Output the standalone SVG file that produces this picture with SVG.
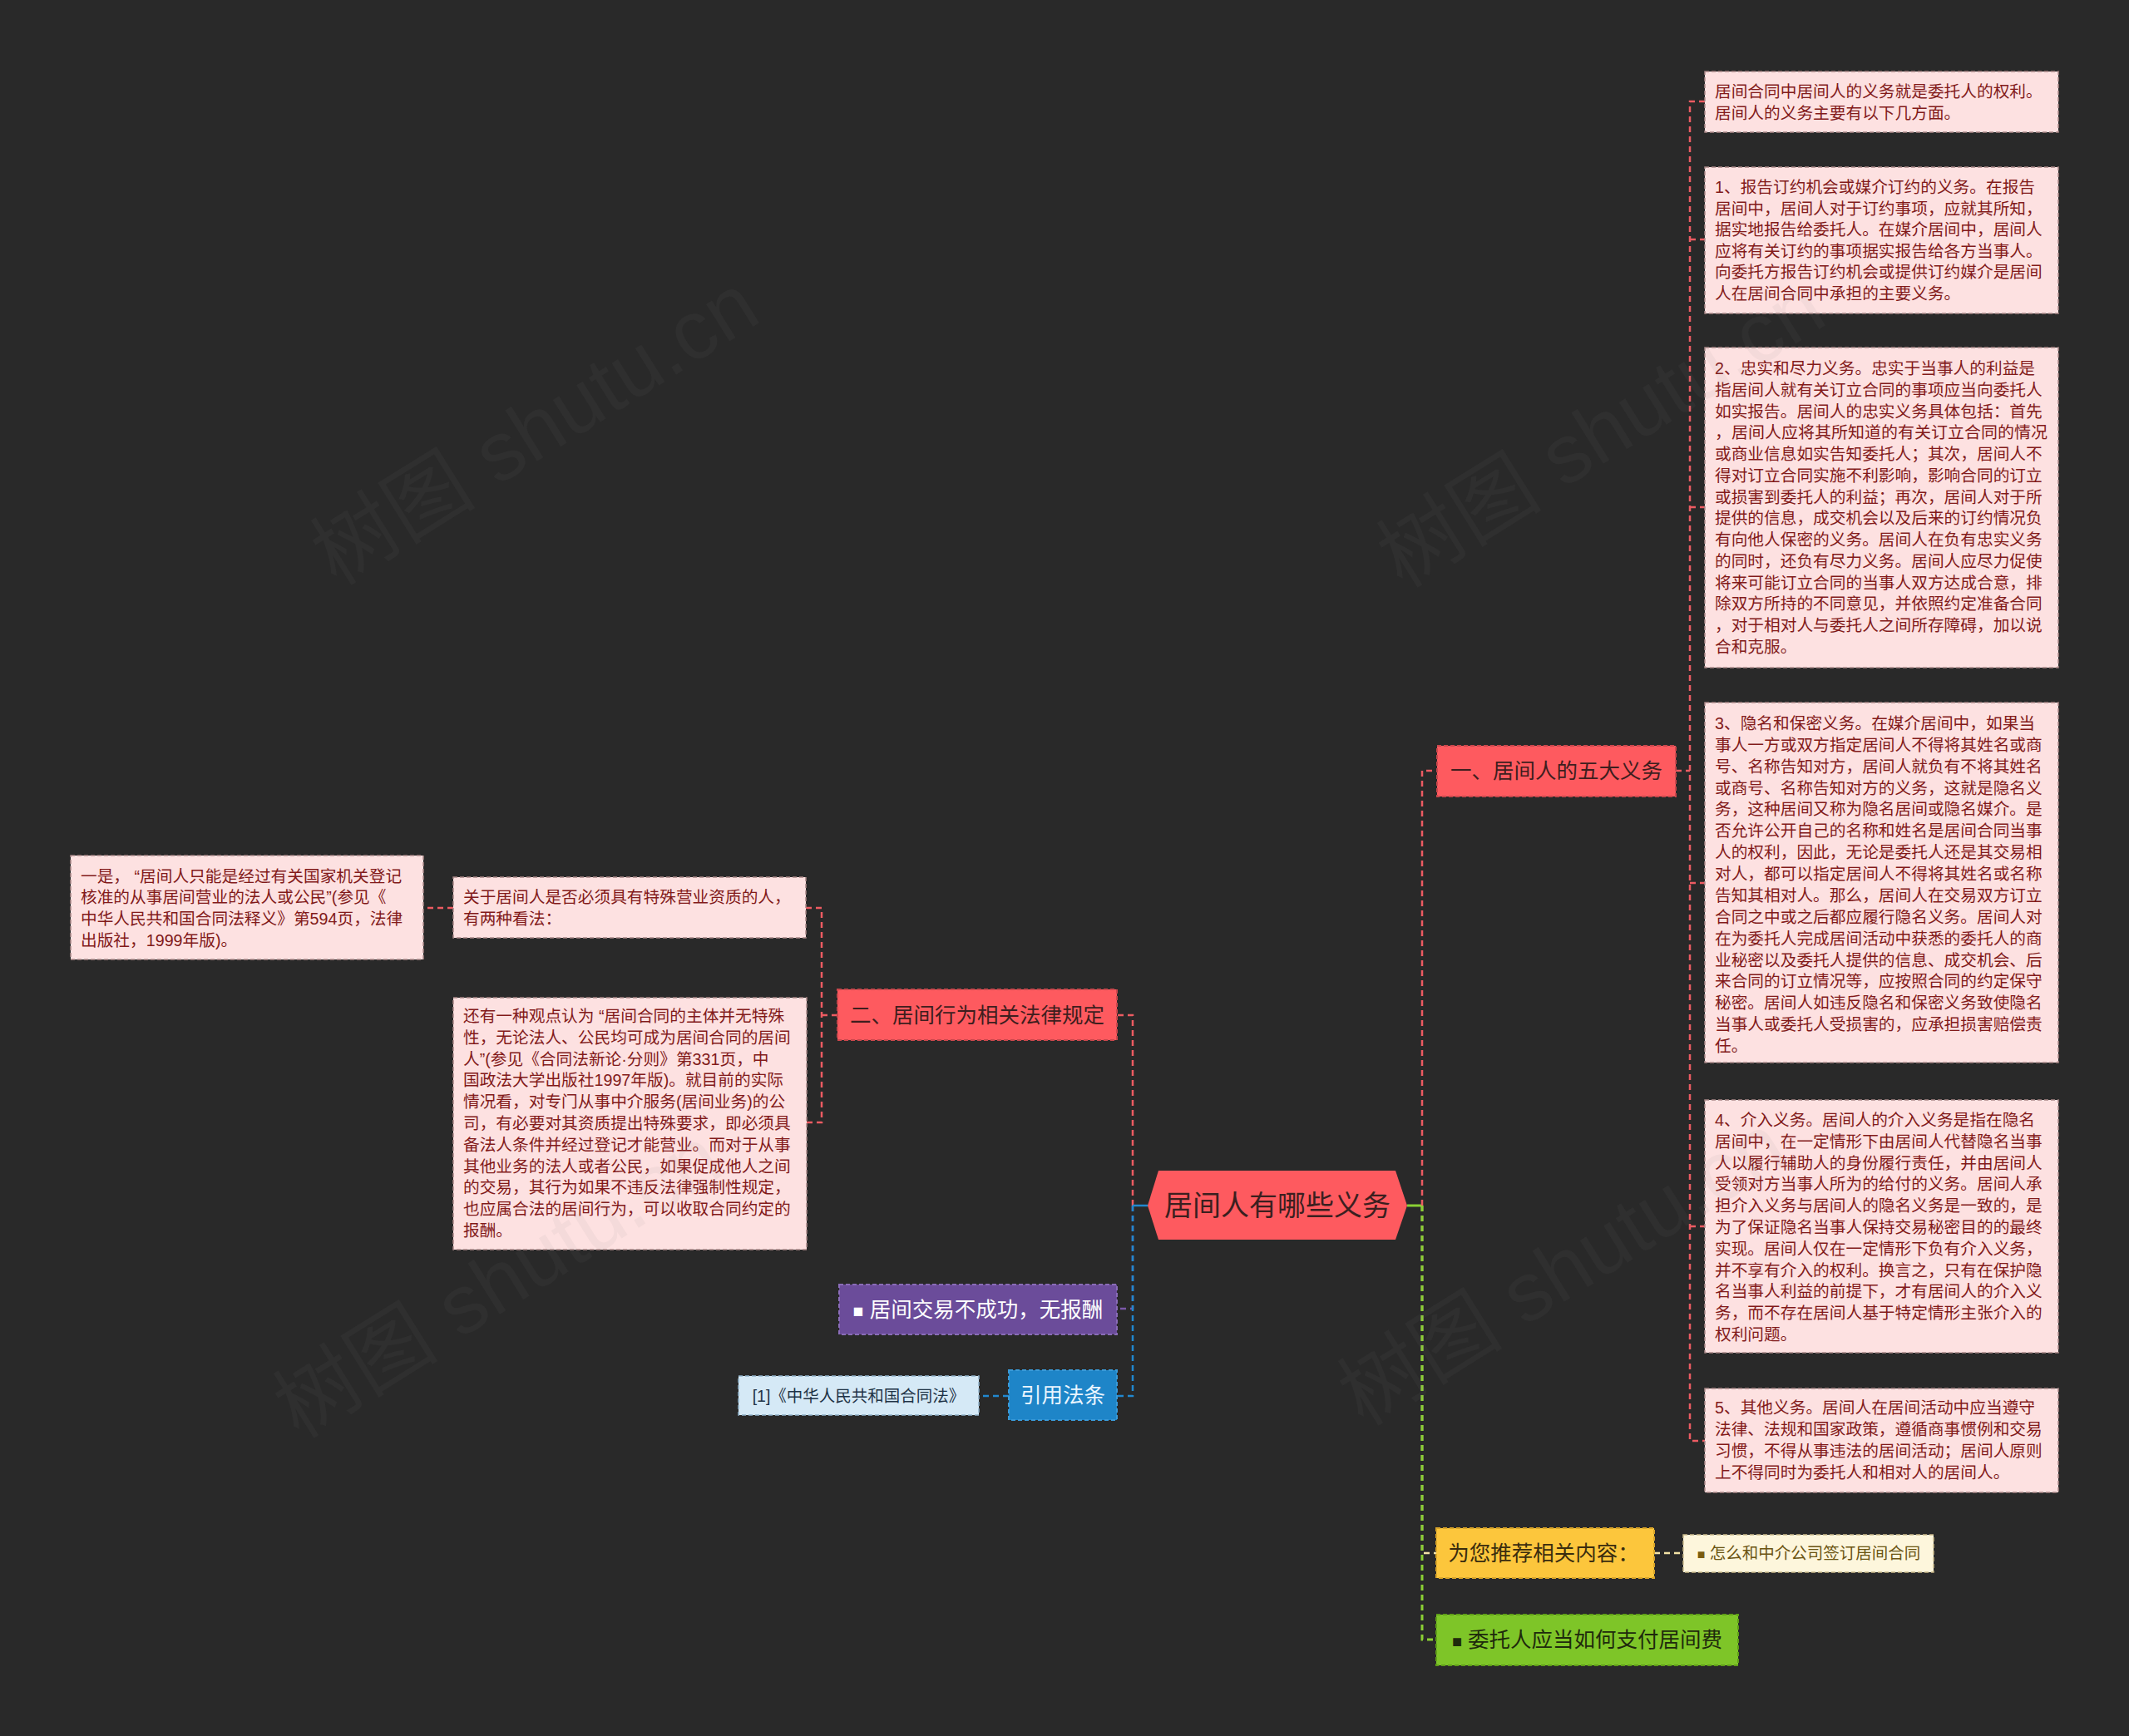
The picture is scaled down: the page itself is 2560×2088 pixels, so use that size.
<svg xmlns="http://www.w3.org/2000/svg" width="2560" height="2088" viewBox="0 0 2560 2088">
<style>
text { font-family: 'Liberation Sans','Noto Sans CJK SC',sans-serif; }
.pk rect { fill:#fde1e1; stroke:#a98888; stroke-width:1.5; stroke-dasharray:5 3; }
.pk text { fill:#821a1a; font-size:19.7px; }
.red rect { fill:#fe5a5f; stroke:#c9474c; stroke-width:2; stroke-dasharray:5 3; }
.red text { fill:#3e1e1e; font-size:25.5px; text-anchor:middle; }
.pur rect { fill:#6b4c9a; stroke:#8a6cb8; stroke-width:2; stroke-dasharray:5 3; }
.pur text { fill:#ffffff; font-size:25.5px; text-anchor:middle; }
.blu rect { fill:#1e85c8; stroke:#3a9ad8; stroke-width:2; stroke-dasharray:5 3; }
.blu text { fill:#eaf5ff; font-size:25.5px; text-anchor:middle; }
.lbl rect { fill:#d5e9f6; stroke:#8fb0c8; stroke-width:1.5; stroke-dasharray:5 3; }
.lbl text { fill:#1f3346; font-size:19.5px; text-anchor:middle; }
.yel rect { fill:#fcc63c; stroke:#d9a52a; stroke-width:2; stroke-dasharray:5 3; }
.yel text { fill:#3a2c0e; font-size:25.5px; text-anchor:middle; }
.crm rect { fill:#fdf6dc; stroke:#c9b98a; stroke-width:1.5; stroke-dasharray:5 3; }
.crm text { fill:#6b5412; font-size:19.5px; text-anchor:middle; }
.grn rect { fill:#7ec528; stroke:#5f9e18; stroke-width:2; stroke-dasharray:5 3; }
.grn text { fill:#1e2a0c; font-size:25.5px; text-anchor:middle; }
.ln { fill:none; stroke-width:2.5; stroke-dasharray:7 5; }
.r { stroke:#ec5b62; }
.b { stroke:#2188cf; }
.p { stroke:#7a58a8; }
.g { stroke:#8bd034; stroke-width:3; }
.y { stroke:#f3e3a6; }
.solid { stroke-dasharray:none; }
.wm { font-size:100px; fill:#808080; fill-opacity:0.07; text-anchor:middle; }
</style>
<rect x="0" y="0" width="2560" height="2088" fill="#292929"/>

<g id="connectors">
  <path class="ln p" d="M1362,1450 V1574 H1343"/>
  <path class="ln r" d="M1362,1450 V1221 H1343"/>
  <path class="ln b" d="M1362,1450 V1679 H1343"/>
  <path class="ln b solid" d="M1380,1450 H1362"/>
  <path class="ln r" d="M1007,1221 H988"/>
  <path class="ln r" d="M969,1092 H988 V1350 H970"/>
  <path class="ln r" d="M545,1092 H509"/>
  <path class="ln b" d="M1213,1679 H1177"/>
  <path class="ln g solid" d="M1692,1450 H1710"/>
  <path class="ln r" d="M1710,1450 V927 H1728"/>
  <path class="ln y" d="M1710,1450 V1868 H1727"/>
  <path class="ln g" d="M1710,1450 V1972 H1727"/>
  <path class="ln r" d="M2015,927 H2032"/>
  <path class="ln r" d="M2050,122 H2032 V1733 H2050"/>
  <path class="ln r" d="M2032,288 H2050"/>
  <path class="ln r" d="M2032,610 H2050"/>
  <path class="ln r" d="M2032,1062 H2050"/>
  <path class="ln r" d="M2032,1475 H2050"/>
  <path class="ln y" d="M1989,1868 H2024"/>
</g>

<g id="root">
  <polygon points="1380,1450 1393,1408 1678,1408 1692,1450 1678,1491 1393,1491" fill="#fe5a5f"/>
  <text x="1536" y="1462" font-size="34" fill="#3b1f1f" text-anchor="middle">居间人有哪些义务</text>
</g>

<g id="n-duty5" class="red">
  <rect x="1728" y="897" width="287" height="61"/>
  <text x="1871.5" y="936">一、居间人的五大义务</text>
</g>

<g id="n-r1" class="pk">
  <rect x="2050" y="86" width="425" height="73"/>
  <text x="2062" y="117">居间合同中居间人的义务就是委托人的权利。<tspan x="2062" dy="26">居间人的义务主要有以下几方面。</tspan></text>
</g>

<g id="n-r2" class="pk">
  <rect x="2050" y="201" width="425" height="176"/>
  <text x="2062" y="232">1、报告订约机会或媒介订约的义务。在报告<tspan x="2062" dy="25.6">居间中，居间人对于订约事项，应就其所知，</tspan><tspan x="2062" dy="25.6">据实地报告给委托人。在媒介居间中，居间人</tspan><tspan x="2062" dy="25.6">应将有关订约的事项据实报告给各方当事人。</tspan><tspan x="2062" dy="25.6">向委托方报告订约机会或提供订约媒介是居间</tspan><tspan x="2062" dy="25.6">人在居间合同中承担的主要义务。</tspan></text>
</g>

<g id="n-r3" class="pk">
  <rect x="2050" y="418" width="425" height="385"/>
  <text x="2062" y="450">2、忠实和尽力义务。忠实于当事人的利益是<tspan x="2062" dy="25.75">指居间人就有关订立合同的事项应当向委托人</tspan><tspan x="2062" dy="25.75">如实报告。居间人的忠实义务具体包括：首先</tspan></text>
  <text x="2062" y="527.25" textLength="400" lengthAdjust="spacingAndGlyphs">，居间人应将其所知道的有关订立合同的情况</text>
  <text x="2062" y="553">或商业信息如实告知委托人；其次，居间人不<tspan x="2062" dy="25.75">得对订立合同实施不利影响，影响合同的订立</tspan><tspan x="2062" dy="25.75">或损害到委托人的利益；再次，居间人对于所</tspan><tspan x="2062" dy="25.75">提供的信息，成交机会以及后来的订约情况负</tspan><tspan x="2062" dy="25.75">有向他人保密的义务。居间人在负有忠实义务</tspan><tspan x="2062" dy="25.75">的同时，还负有尽力义务。居间人应尽力促使</tspan><tspan x="2062" dy="25.75">将来可能订立合同的当事人双方达成合意，排</tspan><tspan x="2062" dy="25.75">除双方所持的不同意见，并依照约定准备合同</tspan><tspan x="2062" dy="25.75">，对于相对人与委托人之间所存障碍，加以说</tspan><tspan x="2062" dy="25.75">合和克服。</tspan></text>
</g>

<g id="n-r4" class="pk">
  <rect x="2050" y="845" width="425" height="433"/>
  <text x="2062" y="877">3、隐名和保密义务。在媒介居间中，如果当<tspan x="2062" dy="25.87">事人一方或双方指定居间人不得将其姓名或商</tspan><tspan x="2062" dy="25.87">号、名称告知对方，居间人就负有不将其姓名</tspan><tspan x="2062" dy="25.87">或商号、名称告知对方的义务，这就是隐名义</tspan><tspan x="2062" dy="25.87">务，这种居间又称为隐名居间或隐名媒介。是</tspan><tspan x="2062" dy="25.87">否允许公开自己的名称和姓名是居间合同当事</tspan><tspan x="2062" dy="25.87">人的权利，因此，无论是委托人还是其交易相</tspan><tspan x="2062" dy="25.87">对人，都可以指定居间人不得将其姓名或名称</tspan><tspan x="2062" dy="25.87">告知其相对人。那么，居间人在交易双方订立</tspan><tspan x="2062" dy="25.87">合同之中或之后都应履行隐名义务。居间人对</tspan><tspan x="2062" dy="25.87">在为委托人完成居间活动中获悉的委托人的商</tspan><tspan x="2062" dy="25.87">业秘密以及委托人提供的信息、成交机会、后</tspan><tspan x="2062" dy="25.87">来合同的订立情况等，应按照合同的约定保守</tspan><tspan x="2062" dy="25.87">秘密。居间人如违反隐名和保密义务致使隐名</tspan><tspan x="2062" dy="25.87">当事人或委托人受损害的，应承担损害赔偿责</tspan><tspan x="2062" dy="25.87">任。</tspan></text>
</g>

<g id="n-r5" class="pk">
  <rect x="2050" y="1323" width="425" height="304"/>
  <text x="2062" y="1354">4、介入义务。居间人的介入义务是指在隐名<tspan x="2062" dy="25.8">居间中，在一定情形下由居间人代替隐名当事</tspan><tspan x="2062" dy="25.8">人以履行辅助人的身份履行责任，并由居间人</tspan><tspan x="2062" dy="25.8">受领对方当事人所为的给付的义务。居间人承</tspan><tspan x="2062" dy="25.8">担介入义务与居间人的隐名义务是一致的，是</tspan><tspan x="2062" dy="25.8">为了保证隐名当事人保持交易秘密目的的最终</tspan><tspan x="2062" dy="25.8">实现。居间人仅在一定情形下负有介入义务，</tspan><tspan x="2062" dy="25.8">并不享有介入的权利。换言之，只有在保护隐</tspan><tspan x="2062" dy="25.8">名当事人利益的前提下，才有居间人的介入义</tspan><tspan x="2062" dy="25.8">务，而不存在居间人基于特定情形主张介入的</tspan><tspan x="2062" dy="25.8">权利问题。</tspan></text>
</g>

<g id="n-r6" class="pk">
  <rect x="2050" y="1670" width="425" height="125"/>
  <text x="2062" y="1700">5、其他义务。居间人在居间活动中应当遵守<tspan x="2062" dy="26">法律、法规和国家政策，遵循商事惯例和交易</tspan><tspan x="2062" dy="26">习惯，不得从事违法的居间活动；居间人原则</tspan><tspan x="2062" dy="26">上不得同时为委托人和相对人的居间人。</tspan></text>
</g>

<g id="n-law" class="red">
  <rect x="1007" y="1190" width="336" height="61"/>
  <text x="1175" y="1230">二、居间行为相关法律规定</text>
</g>

<g id="n-l2" class="pk">
  <rect x="545" y="1055" width="424" height="73"/>
  <text x="557" y="1086">关于居间人是否必须具有特殊营业资质的人，<tspan x="557" dy="26">有两种看法：</tspan></text>
</g>

<g id="n-l1" class="pk">
  <rect x="85" y="1029" width="424" height="125"/>
  <text x="97" y="1060.5">一是， “居间人只能是经过有关国家机关登记<tspan x="97" dy="25.7">核准的从事居间营业的法人或公民”(参见《</tspan><tspan x="97" dy="25.7">中华人民共和国合同法释义》第594页，法律</tspan><tspan x="97" dy="25.7">出版社，1999年版)。</tspan></text>
</g>

<g id="n-l3" class="pk">
  <rect x="545" y="1200" width="425" height="303"/>
  <text x="557" y="1229">还有一种观点认为 “居间合同的主体并无特殊<tspan x="557" dy="25.8">性，无论法人、公民均可成为居间合同的居间</tspan><tspan x="557" dy="25.8">人”(参见《合同法新论·分则》第331页，中</tspan><tspan x="557" dy="25.8">国政法大学出版社1997年版)。就目前的实际</tspan><tspan x="557" dy="25.8">情况看，对专门从事中介服务(居间业务)的公</tspan><tspan x="557" dy="25.8">司，有必要对其资质提出特殊要求，即必须具</tspan><tspan x="557" dy="25.8">备法人条件并经过登记才能营业。而对于从事</tspan><tspan x="557" dy="25.8">其他业务的法人或者公民，如果促成他人之间</tspan><tspan x="557" dy="25.8">的交易，其行为如果不违反法律强制性规定，</tspan><tspan x="557" dy="25.8">也应属合法的居间行为，可以收取合同约定的</tspan><tspan x="557" dy="25.8">报酬。</tspan></text>
</g>

<g id="n-nopay" class="pur">
  <rect x="1009" y="1545" width="334" height="60"/>
  <text x="1176" y="1584"><tspan font-size="21">■</tspan> 居间交易不成功，无报酬</text>
</g>

<g id="n-cite" class="blu">
  <rect x="1213" y="1648" width="130" height="60"/>
  <text x="1278" y="1687">引用法条</text>
</g>

<g id="n-ref" class="lbl">
  <rect x="888" y="1655" width="289" height="47"/>
  <text x="1032.5" y="1685.5">[1]《中华人民共和国合同法》</text>
</g>

<g id="n-rec" class="yel">
  <rect x="1727" y="1838" width="262" height="60"/>
  <text x="1856" y="1877">为您推荐相关内容：</text>
</g>

<g id="n-rec1" class="crm">
  <rect x="2024" y="1846" width="301" height="45"/>
  <text x="2175" y="1875"><tspan font-size="16" fill="#7a5c10">■</tspan> 怎么和中介公司签订居间合同</text>
</g>

<g id="n-pay" class="grn">
  <rect x="1727" y="1942" width="363" height="61"/>
  <text x="1908.5" y="1981"><tspan font-size="20">■</tspan> 委托人应当如何支付居间费</text>
</g>

<g id="watermarks">
  <text class="wm" x="645" y="550" transform="rotate(-32 645 519)">树图 shutu.cn</text>
  <text class="wm" x="1927" y="553" transform="rotate(-32 1927 522)">树图 shutu.cn</text>
  <text class="wm" x="600" y="1576" transform="rotate(-32 600 1545)">树图 shutu.cn</text>
  <text class="wm" x="1880" y="1561" transform="rotate(-32 1880 1530)">树图 shutu.cn</text>
</g>
</svg>
